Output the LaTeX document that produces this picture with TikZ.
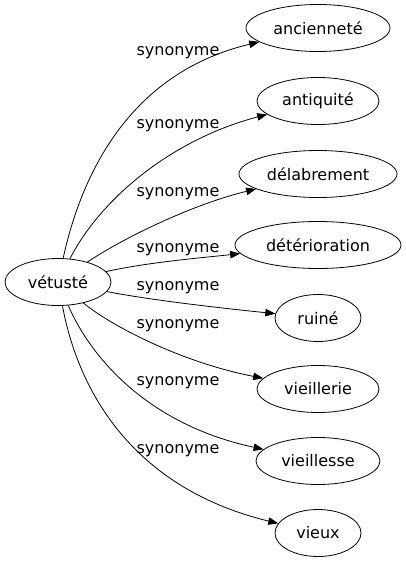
\documentclass[tikz,border=0pt]{standalone}
\usepackage{fontspec}
\setmainfont{DejaVu Sans}
\usetikzlibrary{arrows.meta,shapes.geometric}
\begin{document}
\begin{tikzpicture}[x=1pt,y=-1pt,
  every node/.style={font=\fontsize{16}{18}\selectfont},
  word/.style={draw,ellipse,inner sep=0pt,minimum height=47pt,line width=0.8pt},
  lab/.style={inner sep=0pt},
  arr/.style={line width=0.8pt,-{Triangle[length=10pt,width=7.5pt]}}]
\useasboundingbox (0,0) rectangle (406,563);
\node[word,minimum width=106pt] (v) at (58,282) {vétusté};
\node[word,minimum width=144pt] (n1) at (318,28) {ancienneté};
\node[word,minimum width=122pt] (n2) at (318,101) {antiquité};
\node[word,minimum width=158pt] (n3) at (318,174) {délabrement};
\node[word,minimum width=166pt] (n4) at (318,245) {détérioration};
\node[word,minimum width=86pt] (n5) at (318,318) {ruiné};
\node[word,minimum width=122pt] (n6) at (318,389) {vieillerie};
\node[word,minimum width=124pt] (n7) at (318,461) {vieillesse};
\node[word,minimum width=86pt] (n8) at (318,533) {vieux};
\node[lab] (l1) at (178,53) {synonyme};
\node[lab] (l2) at (178,126) {synonyme};
\node[lab] (l3) at (178,194) {synonyme};
\node[lab] (l4) at (178,250) {synonyme};
\node[lab] (l5) at (178,288) {synonyme};
\node[lab] (l6) at (178,326) {synonyme};
\node[lab] (l7) at (178,383) {synonyme};
\node[lab] (l8) at (178,451) {synonyme};
\draw[arr] (v) .. controls (78,190) and (120,75) .. (n1);
\draw[arr] (v) .. controls (100,200) and (170,140) .. (n2);
\draw[arr] (v) .. controls (120,240) and (190,205) .. (n3);
\draw[arr] (v) .. controls (150,262) and (200,258) .. (n4);
\draw[arr] (v) .. controls (150,300) and (220,308) .. (n5);
\draw[arr] (v) .. controls (110,325) and (180,362) .. (n6);
\draw[arr] (v) .. controls (92,360) and (150,425) .. (n7);
\draw[arr] (v) .. controls (80,400) and (140,490) .. (n8);
\end{tikzpicture}
\end{document}
